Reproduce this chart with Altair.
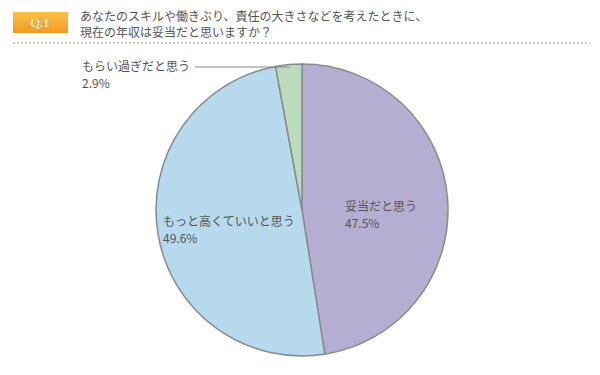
import altair as alt
import pandas as pd

categories = ["妥当だと思う", "もっと高くていいと思う", "もらい過ぎだと思う"]
values = [47.5, 49.6, 2.9]
colors = ["#b4aed2", "#b7d9ee", "#badcbc"]
title_lines = ["あなたのスキルや働きぶり、責任の大きさなどを考えたときに、", "現在の年収は妥当だと思いますか？"]
qlabel = "Q.1"

FONT = "Noto Sans CJK JP"
TXT = "#555555"

df = pd.DataFrame({"cat": categories, "val": values, "ord": [0, 1, 2]})

pie = alt.Chart(df).mark_arc(radius=146, stroke="#8a8a8a", strokeWidth=1.5).encode(
    theta=alt.Theta("val:Q", stack=True),
    order=alt.Order("ord:Q"),
    color=alt.Color("cat:N", scale=alt.Scale(domain=categories, range=colors), legend=None),
    x=alt.value(294), y=alt.value(202),
)

base = alt.Chart(pd.DataFrame({"a": [0]}))

qbox = base.mark_rect(
    color=alt.Gradient(gradient="linear", stops=[alt.GradientStop(color="#fbc04a", offset=0),
                                                 alt.GradientStop(color="#f29a1f", offset=1)],
                       x1=0, x2=0, y1=0, y2=1)
).encode(x=alt.value(5), x2=alt.value(60), y=alt.value(4), y2=alt.value(25))

qtext = base.mark_text(text=qlabel, color="white", font="Times New Roman", fontSize=13,
                       align="center", baseline="middle").encode(x=alt.value(32), y=alt.value(15))

t1 = base.mark_text(text=title_lines[0], color=TXT, font=FONT, fontSize=12, align="left",
                    baseline="middle").encode(x=alt.value(72), y=alt.value(9))
t2 = base.mark_text(text=title_lines[1], color=TXT, font=FONT, fontSize=12, align="left",
                    baseline="middle").encode(x=alt.value(72), y=alt.value(25))

dots = base.mark_rule(color="#999999", strokeDash=[2, 2], strokeWidth=1).encode(
    x=alt.value(5), x2=alt.value(582), y=alt.value(35))

leader = base.mark_rule(color="#8a8a8a", strokeWidth=1).encode(
    x=alt.value(187), x2=alt.value(282), y=alt.value(59))

label_pos = [(337, 199), (155, 214), (74, 59)]
layers = [pie, qbox, qtext, t1, t2, dots, leader]
for (cx, cy), cat, v in zip(label_pos, categories, values):
    layers.append(base.mark_text(text=cat, color=TXT, font=FONT, fontSize=12, align="left",
                                 baseline="middle").encode(x=alt.value(cx), y=alt.value(cy)))
    layers.append(base.mark_text(text=f"{v:.1f}%", color=TXT, font=FONT, fontSize=12, align="left",
                                 baseline="middle").encode(x=alt.value(cx), y=alt.value(cy + 17)))

chart = alt.layer(*layers).properties(
    width=584, height=359, padding=0, autosize=alt.AutoSizeParams(type="none")
).configure_view(stroke=None)

chart.save("out.html", embed_options={"renderer": "svg", "actions": False})
